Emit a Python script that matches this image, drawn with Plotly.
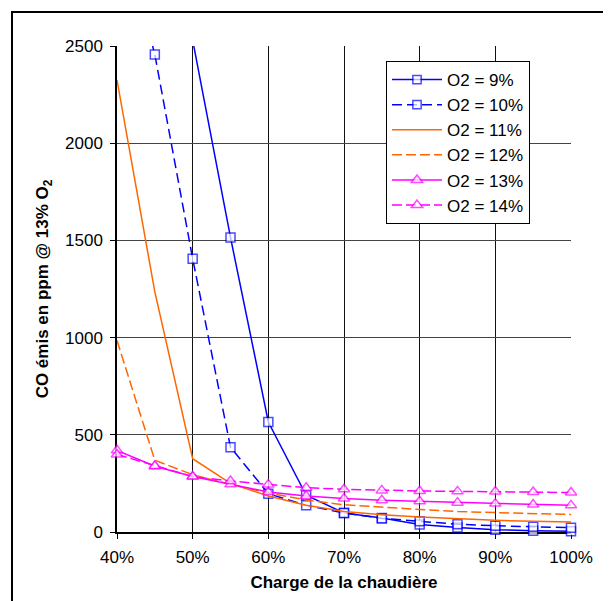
import plotly.graph_objects as go

# ---- data ----
charge = [40, 45, 50, 55, 60, 65, 70, 75, 80, 85, 90, 95, 100]  # % load

o2_9 = [None, None, 2530, 1515, 566, 189, 98, 72, 38, 23, 12, 6, 4]
o2_10 = [3200, 2456, 1406, 436, 197, 137, 98, 70, 55, 40, 32, 27, 22]
o2_11 = [2325, 1235, 377, 250, 185, 138, 106, 89, 77, 67, 60, 55, 51]
o2_12 = [985, 369, 295, 245, 200, 165, 140, 127, 116, 105, 100, 95, 90]
o2_13 = [420, 338, 286, 245, 206, 185, 172, 163, 158, 151, 146, 141, 137]
o2_14 = [399, 340, 285, 262, 244, 228, 220, 214, 211, 209, 208, 206, 203]

series_names = ["O2 = 9%", "O2 = 10%", "O2 = 11%", "O2 = 12%", "O2 = 13%", "O2 = 14%"]
y_max = 2500
y_ticks = [0, 500, 1000, 1500, 2000, 2500]
x_ticks = [40, 50, 60, 70, 80, 90, 100]
x_tick_labels = [f"{v}%" for v in x_ticks]

BLUE = "#0000FF"
ORANGE = "#FF6600"
MAGENTA = "#FF00FF"

styles = [
    dict(color=BLUE, dash="solid", symbol="square", msize=9),
    dict(color=BLUE, dash="10px,5px", symbol="square", msize=9),
    dict(color=ORANGE, dash="solid", symbol=None, msize=0),
    dict(color=ORANGE, dash="10px,4px", symbol=None, msize=0),
    dict(color=MAGENTA, dash="solid", symbol="triangle-up", msize=10),
    dict(color=MAGENTA, dash="10px,4px", symbol="triangle-up", msize=10),
]

fig = go.Figure()
for name, vals, st in zip(series_names, [o2_9, o2_10, o2_11, o2_12, o2_13, o2_14], styles):
    line = dict(color=st["color"], width=1.5, dash=st["dash"])
    if st["symbol"]:
        # markers of points above the axis maximum are hidden (as in the original chart)
        sizes = [0 if (v is not None and v > y_max) else st["msize"] for v in vals]
        fig.add_trace(go.Scatter(
            x=charge, y=vals, name=name, mode="lines+markers", line=line,
            marker=dict(symbol=st["symbol"], size=sizes, color="white",
                        line=dict(color=st["color"], width=1.5)),
            cliponaxis=False, connectgaps=False,
        ))
    else:
        fig.add_trace(go.Scatter(
            x=charge, y=vals, name=name, mode="lines", line=line,
            cliponaxis=False,
        ))

# plot-area geometry in figure pixels (page body has an 8px margin)
OFF = 8
W, H = 611 - OFF, 601 - OFF
L, T = 117 - OFF, 46 - OFF
R = W - (571 - OFF)
B = H - (532 - OFF)
pw, ph = W - L - R, H - T - B

def px_x(p):
    return (p - OFF - L) / pw

def px_y(p):
    return (H - B - (p - OFF)) / ph

font_family = "Liberation Sans, Arial, sans-serif"
FS = 17

fig.update_layout(
    width=W, height=H,
    margin=dict(l=L, r=R, t=T, b=B),
    paper_bgcolor="white", plot_bgcolor="white",
    font=dict(family=font_family, size=FS, color="black"),
    showlegend=True,
    legend=dict(
        x=px_x(386), y=px_y(61), xanchor="left", yanchor="top",
        bgcolor="white", bordercolor="black", borderwidth=1,
        font=dict(size=FS, family=font_family, color="black"),
        itemwidth=50,
    ),
    xaxis=dict(
        range=[40, 100], tickvals=x_ticks, ticktext=x_tick_labels,
        showgrid=True, gridcolor="#111111", gridwidth=1,
        showline=True, linecolor="black", linewidth=2,
        ticks="outside", ticklen=5, tickcolor="black", tickwidth=1,
        ticklabelstandoff=4,
        zeroline=False, layer="below traces",
        title=dict(text="<b>Charge de la chaudière</b>", font=dict(size=FS), standoff=10),
        tickfont=dict(size=FS),
    ),
    yaxis=dict(
        range=[0, y_max], tickvals=y_ticks,
        showgrid=True, gridcolor="#444444", gridwidth=1,
        showline=True, linecolor="black", linewidth=1.5,
        ticks="outside", ticklen=5, tickcolor="black", tickwidth=1,
        ticklabelstandoff=4,
        zeroline=False, layer="below traces",
        title=dict(text="<b>CO émis en ppm @ 13% O<sub>2</sub></b>", font=dict(size=FS), standoff=12),
        tickfont=dict(size=FS),
    ),
    shapes=[
        dict(type="rect", xref="paper", yref="paper",
             x0=px_x(12), x1=px_x(660), y0=px_y(660), y1=px_y(12),
             line=dict(color="black", width=2), fillcolor="rgba(0,0,0,0)", layer="above"),
    ],
)

fig.write_html("out.html")
